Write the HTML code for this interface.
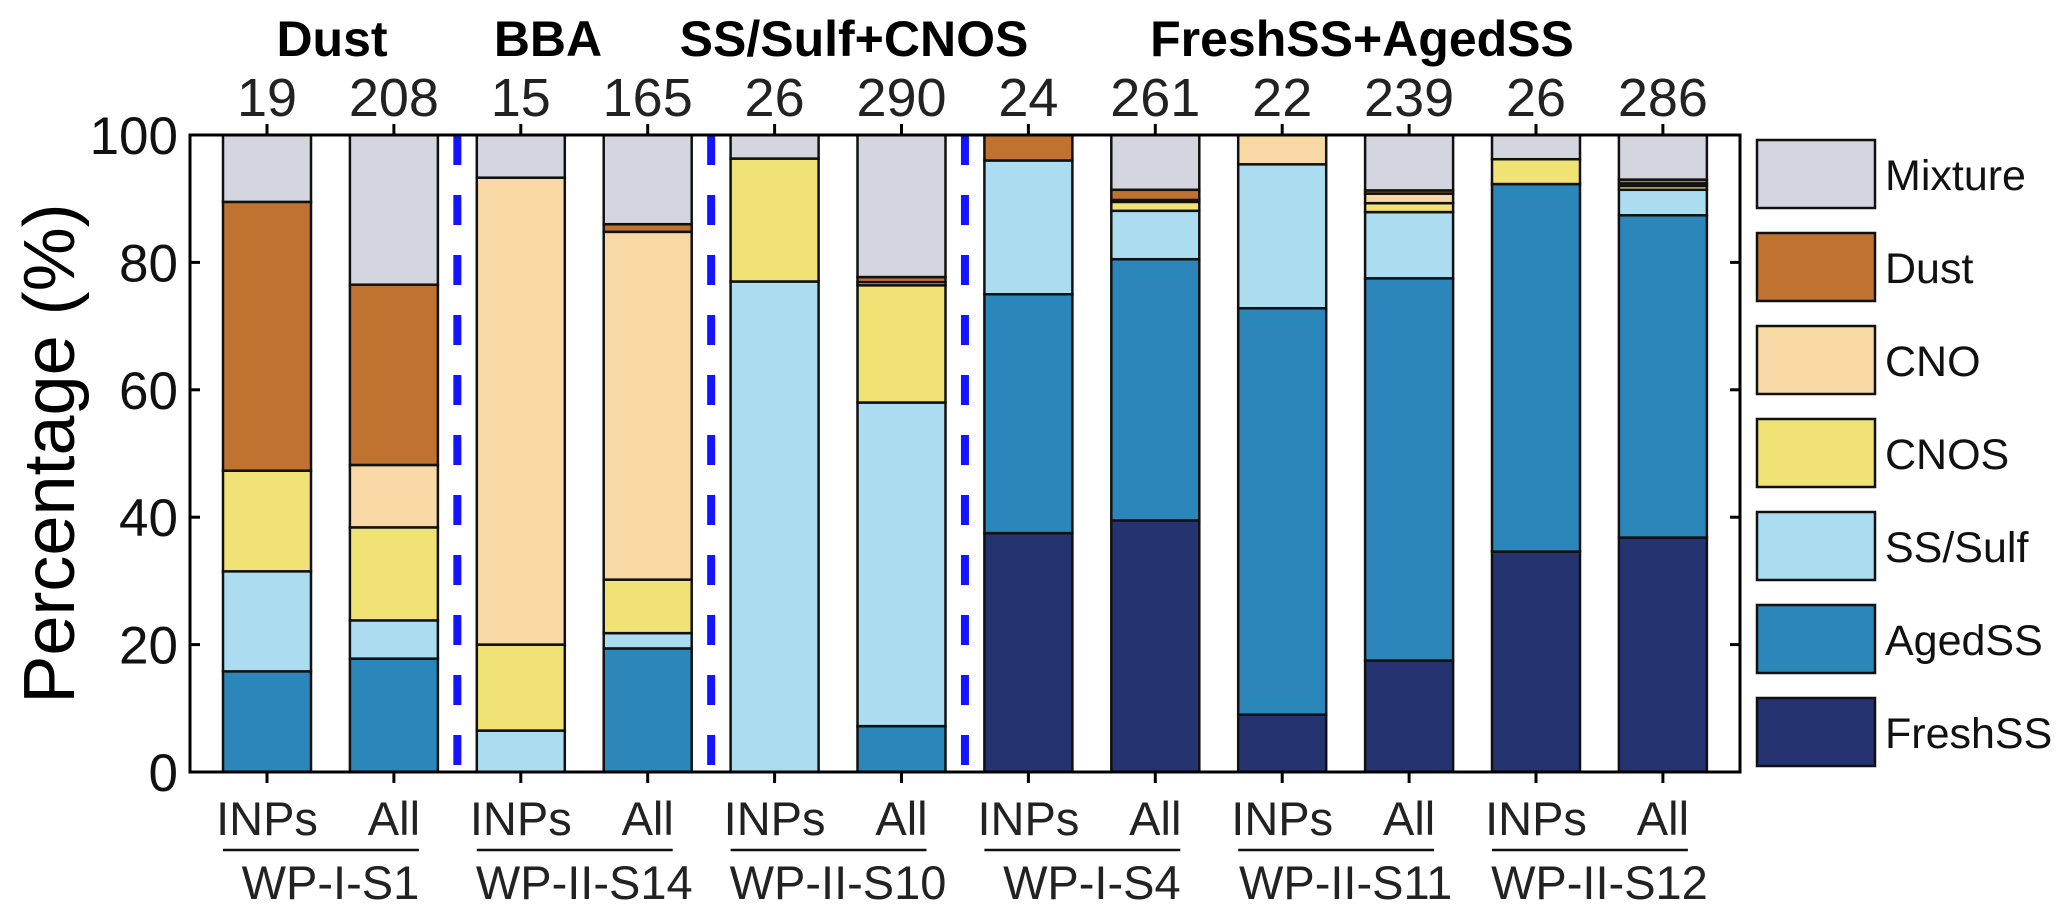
<!DOCTYPE html>
<html><head><meta charset="utf-8"><style>
html,body{margin:0;padding:0;background:#fff;}
svg{display:block;font-family:"Liberation Sans",Arial,sans-serif;}
</style></head><body>
<svg id="chart" width="2067" height="918" viewBox="0 0 2067 918" xmlns="http://www.w3.org/2000/svg"></svg>
<script>
const categories=["INPs","All","INPs","All","INPs","All","INPs","All","INPs","All","INPs","All"];
const counts=["19","208","15","165","26","290","24","261","22","239","26","286"];
const groups=["WP-I-S1","WP-II-S14","WP-II-S10","WP-I-S4","WP-II-S11","WP-II-S12"];
const seriesNames=["FreshSS","AgedSS","SS/Sulf","CNOS","CNO","Dust","Mixture"];
const freshSS=[0,0,0,0,0,0,37.5,39.5,9,17.5,34.6,36.8];
const agedSS=[15.8,17.8,0,19.4,0,7.2,37.5,41,63.8,60,57.7,50.6];
const ssSulf=[15.7,6,6.5,2.4,77,50.8,21,7.6,22.6,10.4,0,4];
const cnos=[15.8,14.6,13.5,8.4,19.3,18.4,0,1.4,0,1.4,3.9,0.6];
const cno=[0,9.8,73.3,54.6,0,0.5,0,0.3,4.6,1.5,0,0.4];
const dust=[42.2,28.3,0,1.2,0,0.8,4,1.6,0,0.5,0,0.6];
const mixture=[10.5,23.5,6.7,14,3.7,22.3,0,8.6,0,8.7,3.8,7.0];
const yTicks=[0,20,40,60,80,100];
const colors=["#253371","#2b86b9","#abdcf0","#f0e275","#f8d9a5","#c07230","#d4d6df"];
const series=[freshSS,agedSS,ssSulf,cnos,cno,dust,mixture];

const NS="http://www.w3.org/2000/svg";
const svg=document.getElementById("chart");
const L=190,R=1740,T=135,B=772;
const x0=267,step=126.9,bw=88;
function xs(i){return x0+i*step;}
function ys(v){return B-(B-T)*v/100;}
function mk(tag,attrs,parent){const e=document.createElementNS(NS,tag);for(const k in attrs)e.setAttribute(k,attrs[k]);(parent||svg).appendChild(e);return e;}

for(let i=0;i<categories.length;i++){
  let acc=0;
  for(let s=0;s<series.length;s++){
    const v=series[s][i];
    if(v<=0)continue;
    const r=mk("rect",{x:xs(i)-bw/2,y:ys(acc+v),width:bw,height:ys(acc)-ys(acc+v),fill:colors[s],stroke:"#111","stroke-width":2.5});
    
    
    acc+=v;
  }
}
[1.5,3.5,5.5].forEach(p=>{
  const l=mk("line",{x1:xs(p),x2:xs(p),y1:T,y2:B,stroke:"#1414ff","stroke-width":8,"stroke-dasharray":"30 30"});
  
  
});
const box=mk("rect",{x:L,y:T,width:R-L,height:B-T,fill:"none",stroke:"#000","stroke-width":3});


yTicks.forEach(t=>{
  mk("line",{x1:L,x2:L+10,y1:ys(t),y2:ys(t),stroke:"#000","stroke-width":3});
  mk("line",{x1:R,x2:R-10,y1:ys(t),y2:ys(t),stroke:"#000","stroke-width":3});
  const tx=mk("text",{x:178,y:ys(t)+19,"text-anchor":"end","font-size":53,fill:"#111"});
  tx.textContent=t;
  
  
});
for(let i=0;i<categories.length;i++){
  mk("line",{x1:xs(i),x2:xs(i),y1:B,y2:B+11,stroke:"#000","stroke-width":3});
  mk("line",{x1:xs(i),x2:xs(i),y1:T,y2:T-11,stroke:"#000","stroke-width":3});
  const c=mk("text",{x:xs(i),y:835,"text-anchor":"middle","font-size":47,fill:"#222"});
  c.textContent=categories[i];
  
  
  const n=mk("text",{x:xs(i),y:116,"text-anchor":"middle","font-size":54,fill:"#222"});
  n.textContent=counts[i];
  
  
}
groups.forEach((g,k)=>{
  const a=xs(2*k)-44,b=xs(2*k+1)+25;
  mk("line",{x1:a,x2:b,y1:850,y2:850,stroke:"#111","stroke-width":2.5});
  const t=mk("text",{x:(xs(2*k)+xs(2*k+1))/2,y:899,"text-anchor":"middle","font-size":47,fill:"#222"});
  t.textContent=g;
  
  
});
[["Dust",332],["BBA",548],["SS/Sulf+CNOS",854],["FreshSS+AgedSS",1362]].forEach(([s,x])=>{
  const t=mk("text",{x:x,y:56,"text-anchor":"middle","font-size":50,"font-weight":"bold",fill:"#000"});
  t.textContent=s;
  
  
});
const yt=mk("text",{x:0,y:0,"text-anchor":"middle","font-size":72,fill:"#000",transform:"translate(74,"+((T+B)/2)+") rotate(-90)"});
yt.textContent="Percentage (%)";


const legOrder=[6,5,4,3,2,1,0];
legOrder.forEach((s,k)=>{
  const y=140+k*93;
  const r=mk("rect",{x:1757,y:y,width:118,height:68,fill:colors[s],stroke:"#111","stroke-width":2.5});
  
  
  const t=mk("text",{x:1885,y:y+50,"font-size":43,fill:"#111"});
  t.textContent=seriesNames[s];
  
  
});
</script>
</body></html>
